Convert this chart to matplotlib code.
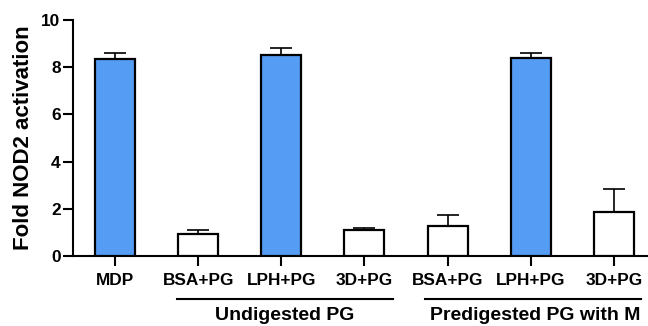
import numpy as np
import matplotlib
matplotlib.use("Agg")
import matplotlib.pyplot as plt
from matplotlib.lines import Line2D

plt.rcParams["font.family"] = ["Liberation Sans", "DejaVu Sans"]
plt.rcParams["font.weight"] = "bold"

# Data
labels = ["MDP", "BSA+PG", "LPH+PG", "3D+PG", "BSA+PG", "LPH+PG", "3D+PG"]
means = [8.35, 0.95, 8.5, 1.1, 1.28, 8.4, 1.85]
errors = [0.25, 0.15, 0.32, 0.1, 0.47, 0.22, 0.98]
colors = ["#549cf4", "white", "#549cf4", "white", "white", "#549cf4", "white"]
groups = ["Undigested PG", "Predigested PG with M"]

fig = plt.figure(figsize=(6.48, 3.26), dpi=100)
ax = fig.add_axes([73 / 648, 1 - 256 / 326, 575 / 648, 236 / 326])

x = np.arange(len(labels))
ax.bar(x, means, width=0.48, color=colors, edgecolor="black", linewidth=1.6, zorder=3)
ax.errorbar(x, means, yerr=[np.zeros(len(means)), errors], fmt="none",
            ecolor="black", elinewidth=1.2, capsize=8, capthick=1.2, zorder=2)

ax.set_xlim(-0.505, 6.41)
ax.set_ylim(0, 10)
ax.set_yticks([0, 2, 4, 6, 8, 10])
ax.set_xticks(x)
ax.set_xticklabels(labels, fontsize=12.4, fontweight="bold")
ax.tick_params(axis="y", labelsize=12.4, width=1.5, length=7, pad=2)
ax.tick_params(axis="x", width=1.5, length=7, pad=5)
for lab in ax.get_yticklabels():
    lab.set_fontweight("bold")
ax.set_ylabel("Fold NOD2 activation", fontsize=16, fontweight="bold", labelpad=5)

ax.spines["top"].set_visible(False)
ax.spines["right"].set_visible(False)
ax.spines["left"].set_linewidth(1.5)
ax.spines["bottom"].set_linewidth(1.5)

# group brackets below the tick labels
trans = ax.get_xaxis_transform()
ax.add_line(Line2D([0.745, 3.34], [-0.182, -0.182], transform=trans,
                   color="black", linewidth=1.5, clip_on=False))
ax.add_line(Line2D([3.73, 6.33], [-0.182, -0.182], transform=trans,
                   color="black", linewidth=1.5, clip_on=False))
ax.text(2.04, -0.215, groups[0], transform=trans, ha="center", va="top",
        fontsize=14, fontweight="bold")
ax.text(3.79, -0.215, groups[1], transform=trans, ha="left", va="top",
        fontsize=14, fontweight="bold")

fig.savefig("out.png", dpi=100)
